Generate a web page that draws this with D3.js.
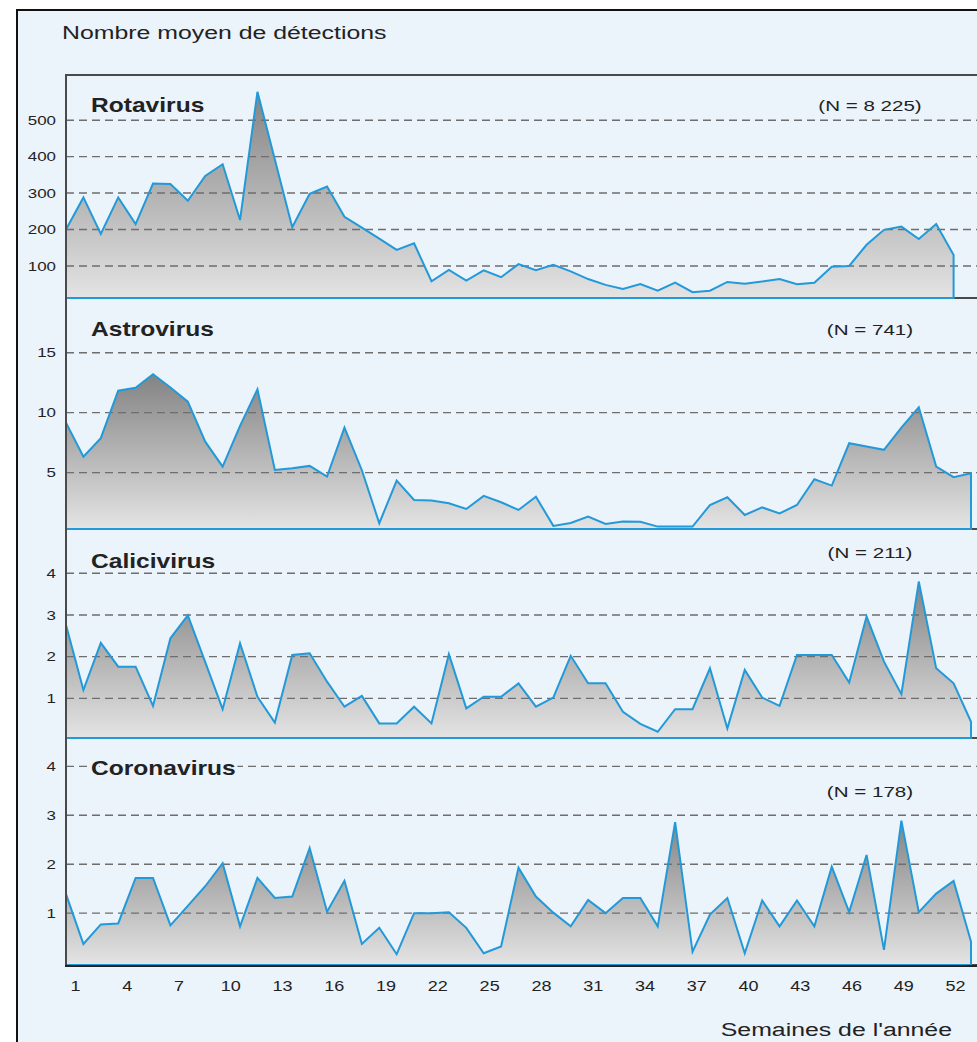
<!DOCTYPE html>
<html>
<head>
<meta charset="utf-8">
<script src="https://cdn.jsdelivr.net/npm/d3@7"></script>
<style>
  body { margin: 0; background: #fff; }
  text { font-family: "Liberation Sans", Arial, sans-serif; fill: #222; }
</style>
</head>
<body>
<svg id="chart" width="977" height="1042"></svg>
<script>
// weeks of the year, and the labels shown under the x axis
const weeks = d3.range(1, 54);
const weekLabels = [1, 4, 7, 10, 13, 16, 19, 22, 25, 28, 31, 34, 37, 40, 43, 46, 49, 52];

// mean number of detections per week
const rotavirus = [200, 288, 188, 288, 215, 326, 325, 279, 347, 379, 226, 578, 392, 206, 298, 318, 235, 205, 175, 144,
  162, 58, 89, 60, 88, 69, 105, 88, 103, 85, 64, 48, 37, 50, 32, 54, 28, 32, 56, 51,
  57, 64, 50, 54, 98, 100, 158, 199, 208, 174, 215, 130];
const astrovirus = [9.17, 6.33, 7.87, 11.83, 12.08, 13.2, 12.1, 10.92, 7.58, 5.5, 8.9, 11.95, 5.22, 5.36, 5.56, 4.67, 8.75, 5.2, 0.78, 4.33,
  2.72, 2.68, 2.44, 1.97, 3.06, 2.53, 1.89, 3.0, 0.56, 0.8, 1.33, 0.72, 0.92, 0.9, 0.5, 0.5, 0.5, 2.3, 2.95, 1.47,
  2.1, 1.6, 2.3, 4.45, 3.92, 7.45, 7.17, 6.9, 8.75, 10.45, 5.5, 4.62, 4.95];
const calicivirus = [2.76, 1.2, 2.33, 1.76, 1.76, 0.82, 2.44, 2.99, 1.87, 0.74, 2.32, 1.04, 0.42, 2.04, 2.08, 1.4, 0.8, 1.06, 0.4, 0.4,
  0.8, 0.4, 2.06, 0.76, 1.04, 1.04, 1.36, 0.8, 1.02, 2.02, 1.36, 1.36, 0.68, 0.39, 0.2, 0.74, 0.74, 1.72, 0.28, 1.68,
  1.02, 0.82, 2.04, 2.04, 2.04, 1.38, 2.96, 1.88, 1.1, 3.8, 1.72, 1.36, 0.44];
const coronavirus = [1.39, 0.37, 0.77, 0.79, 1.72, 1.72, 0.75, 1.15, 1.55, 2.02, 0.73, 1.72, 1.31, 1.34, 2.33, 1.03, 1.66, 0.37, 0.7, 0.16,
  1.0, 1.0, 1.02, 0.7, 0.18, 0.32, 1.93, 1.34, 1.01, 0.73, 1.27, 1.0, 1.31, 1.31, 0.73, 2.86, 0.21, 0.97, 1.31, 0.18,
  1.26, 0.73, 1.26, 0.73, 1.95, 1.02, 2.19, 0.25, 2.89, 1.02, 1.4, 1.66, 0.42];

const panelNames = ["Rotavirus", "Astrovirus", "Calicivirus", "Coronavirus"];
const panelCounts = ["(N = 8 225)", "(N = 741)", "(N = 211)", "(N = 178)"];
const panelTicks = [[100, 200, 300, 400, 500], [5, 10, 15], [1, 2, 3, 4], [1, 2, 3, 4]];
const panelSeries = [rotavirus, astrovirus, calicivirus, coronavirus];

// layout of the four stacked panels
const panelLayout = [
  { top: 75,  bottom: 298, domain: [12, 624],     titleY: 112, countY: 111 },
  { top: 298, bottom: 529, domain: [0.3, 19.56],  titleY: 336, countY: 335 },
  { top: 529, bottom: 738, domain: [0.05, 5.06],  titleY: 568, countY: 558 },
  { top: 738, bottom: 965, domain: [-0.06, 4.58], titleY: 775, countY: 797 }
];

const W = 977, H = 1042;
const left = 66;
const bg = "#ebf3fb";
const blue = "#2299d8";

const svg = d3.select("#chart");

// the original figure is stretched sideways, so text is widened to match
let stretch = (sel, k) => {
  sel.each(function () {
    const w = this.getComputedTextLength();
    d3.select(this).attr("textLength", w * k).attr("lengthAdjust", "spacingAndGlyphs");
  });
};

const defs = svg.append("defs");
const grad = defs.append("linearGradient")
  .attr("id", "fillGrad")
  .attr("x1", 0).attr("y1", 0).attr("x2", 0).attr("y2", 1);
grad.append("stop").attr("offset", "0%").attr("stop-color", "#838383");
grad.append("stop").attr("offset", "100%").attr("stop-color", "#e4e4e4");

// outer frame
svg.append("rect").attr("width", W).attr("height", H).attr("fill", "#fff");
svg.append("rect")
  .attr("x", 17).attr("y", 10)
  .attr("width", 1000).attr("height", 1100)
  .attr("fill", bg)
  .attr("stroke", "#111").attr("stroke-width", 2);

svg.append("text")
  .attr("x", 62).attr("y", 39)
  .style("font-size", "18px")
  .text("Nombre moyen de détections")
  .call(stretch, 1.38);

const x = d3.scaleLinear().domain([1, 53]).range([left, 971]);
const xLabel = d3.scaleLinear().domain([1, 52]).range([75, 955]);

panelSeries.forEach((series, i) => {
  const p = panelLayout[i];
  const y = d3.scaleLinear().domain(p.domain).range([p.bottom, p.top]);
  const g = svg.append("g").attr("class", "panel");
  const pts = series.map((v, j) => [weeks[j], v]);

  // panel boundary
  g.append("line")
    .attr("x1", left).attr("x2", W)
    .attr("y1", p.bottom).attr("y2", p.bottom)
    .attr("stroke", "#4a4a4a").attr("stroke-width", 2);

  const area = d3.area()
    .x(d => x(d[0]))
    .y0(p.bottom)
    .y1(d => y(d[1]));

  g.append("path")
    .datum(pts)
    .attr("d", area)
    .attr("fill", "url(#fillGrad)");

  // dashed grid lines
  g.selectAll(".grid")
    .data(panelTicks[i])
    .enter()
    .append("line")
    .attr("class", "grid")
    .attr("x1", left).attr("x2", W)
    .attr("y1", d => y(d)).attr("y2", d => y(d))
    .attr("stroke", "#6e6e6e")
    .attr("stroke-width", 1.4)
    .attr("stroke-dasharray", "8,5");

  // outline: data line, drop at the end, back along the baseline
  const line = d3.line().x(d => x(d[0])).y(d => y(d[1]));
  g.append("path")
    .datum(pts)
    .attr("d", d => line(d) + `V${p.bottom}H${left}`)
    .attr("fill", "none")
    .attr("stroke", blue)
    .attr("stroke-width", 2)
    .attr("stroke-linejoin", "miter");

  // y axis labels
  const yAxis = g.append("g")
    .attr("transform", `translate(${left},0)`)
    .call(d3.axisLeft(y).tickValues(panelTicks[i]).tickFormat(d3.format("d")).tickSize(0).tickPadding(10));
  yAxis.select(".domain").remove();
  yAxis.selectAll("text")
    .style("font-family", "'Liberation Sans', Arial, sans-serif")
    .style("font-size", "13px")
    .attr("fill", "#333")
    .call(stretch, 1.3);

  g.append("text")
    .attr("x", 91).attr("y", p.titleY)
    .style("font-size", "21px")
    .style("font-weight", "bold")
    .attr("stroke", bg).attr("stroke-width", 5)
    .attr("paint-order", "stroke")
    .text(panelNames[i])
    .call(stretch, 1.17);

  g.append("text")
    .attr("x", 870).attr("y", p.countY)
    .attr("text-anchor", "middle")
    .style("font-size", "15px")
    .attr("fill", "#333")
    .text(panelCounts[i])
    .call(stretch, 1.37);
});

// plot frame (left, top, bottom)
svg.append("line")
  .attr("x1", left).attr("x2", left).attr("y1", 74).attr("y2", 966)
  .attr("stroke", "#4a4a4a").attr("stroke-width", 2);
svg.append("line")
  .attr("x1", left - 1).attr("x2", W).attr("y1", 75).attr("y2", 75)
  .attr("stroke", "#4a4a4a").attr("stroke-width", 2);
svg.append("line")
  .attr("x1", left - 1).attr("x2", W).attr("y1", 966).attr("y2", 966)
  .attr("stroke", "#222").attr("stroke-width", 2);

// x axis labels
const xAxis = svg.append("g")
  .attr("transform", "translate(0,965)")
  .call(d3.axisBottom(xLabel).tickValues(weekLabels).tickSize(0).tickPadding(15));
xAxis.select(".domain").remove();
xAxis.selectAll("text")
  .style("font-family", "'Liberation Sans', Arial, sans-serif")
  .style("font-size", "15px")
  .attr("fill", "#333")
  .call(stretch, 1.2);

svg.append("text")
  .attr("x", 952).attr("y", 1036)
  .attr("text-anchor", "end")
  .style("font-size", "18px")
  .text("Semaines de l'année")
  .call(stretch, 1.38);
</script>
</body>
</html>
